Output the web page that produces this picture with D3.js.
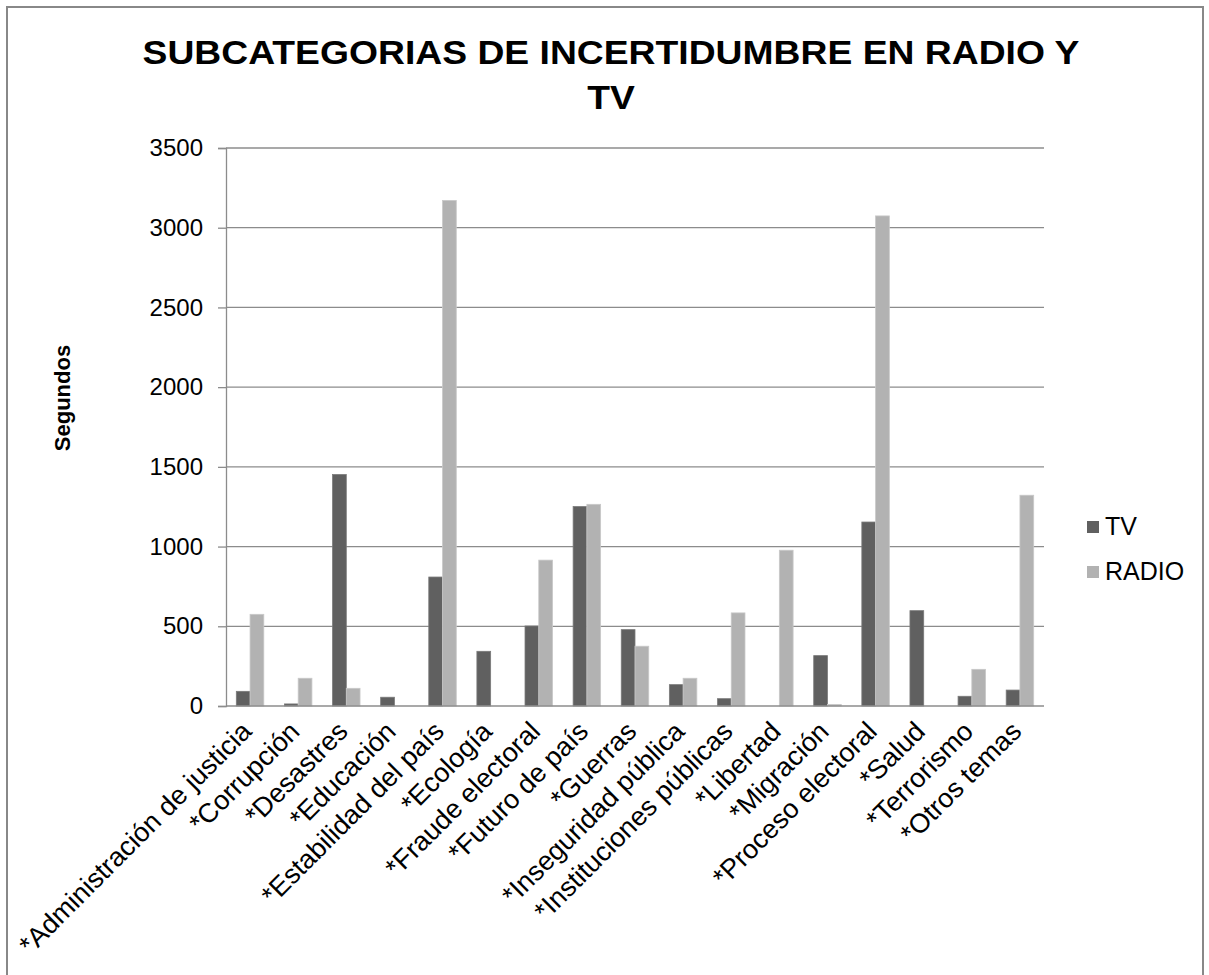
<!DOCTYPE html>
<html><head><meta charset="utf-8">
<script src="https://cdn.jsdelivr.net/npm/d3@7"></script>
<style>
html,body{margin:0;padding:0;background:#fff;}
text{font-family:"Liberation Sans",Arial,sans-serif;}
</style></head>
<body>
<svg id="c" width="1209" height="975"></svg>
<script>
const categories = ["*Administración de justicia","*Corrupción","*Desastres","*Educación","*Estabilidad del país","*Ecología","*Fraude electoral","*Futuro de país","*Guerras","*Inseguridad pública","*Instituciones públicas","*Libertad","*Migración","*Proceso electoral","*Salud","*Terrorismo","*Otros temas"];
const tvValues    = [92, 13, 1452, 55, 809, 343, 502, 1251, 479, 134, 46, 0, 316, 1154, 598, 61, 100];
const radioValues = [575, 174, 111, 0, 3171, 0, 915, 1265, 375, 174, 584, 977, 10, 3074, 0, 230, 1322];
const seriesNames = ["TV", "RADIO"];
const seriesColors = ["#606060", "#b2b2b2"];
const yTicks = [0, 500, 1000, 1500, 2000, 2500, 3000, 3500];
const titleLines = ["SUBCATEGORIAS DE INCERTIDUMBRE EN RADIO Y", "TV"];
const yTitle = "Segundos";

const svg = d3.select("#c");
svg.append("rect").attr("x",7).attr("y",7).attr("width",1196).attr("height",1000)
  .attr("fill","#fff").attr("stroke","#888").attr("stroke-width",2);

const L = 226, R = 1044, T = 148, B = 706;
const x = d3.scaleBand().domain(categories).range([L, R]).paddingInner(0).paddingOuter(0);
const bw = x.bandwidth() / 3.5;
const x1 = d3.scaleBand().domain(seriesNames).range([0, 2 * bw]);
const y = d3.scaleLinear().domain([0, 3500]).range([B, T]);

// gridlines
svg.append("g").selectAll("line").data(yTicks.filter(d => d > 0)).join("line")
  .attr("x1", L).attr("x2", R).attr("y1", d => y(d)).attr("y2", d => y(d))
  .attr("stroke", "#8c8c8c").attr("stroke-width", 1.3);

// y axis
const yAxis = d3.axisLeft(y).tickValues(yTicks).tickSize(8).tickPadding(15).tickFormat(d3.format("d"));
const gy = svg.append("g").attr("transform", `translate(${L},0)`).call(yAxis);
gy.select(".domain").attr("stroke", "#8c8c8c").attr("stroke-width", 1.3);
gy.selectAll(".tick line").attr("stroke", "#8c8c8c").attr("stroke-width", 1.3);
gy.selectAll(".tick text").attr("font-size", 24).attr("fill", "#000")
  .attr("font-family", "Liberation Sans, Arial, sans-serif");

// bars
const data = categories.map((c, i) => ({c, vals: [tvValues[i], radioValues[i]]}));
const groups = svg.append("g").selectAll("g").data(data).join("g")
  .attr("transform", d => `translate(${x(d.c) + (x.bandwidth() - 2 * bw) / 2},0)`);
groups.selectAll("rect").data(d => d.vals.map((v, j) => ({v, s: seriesNames[j], j})))
  .join("rect")
  .filter(d => d.v > 0)
  .attr("x", d => x1(d.s)).attr("width", x1.bandwidth())
  .attr("y", d => y(d.v)).attr("height", d => y(0) - y(d.v))
  .attr("fill", d => seriesColors[d.j])
  .attr("stroke", d => d.j === 0 ? "#7a7a7a" : "#c8c8c8").attr("stroke-width", 0.8);

// x axis line
svg.append("line").attr("x1", L).attr("x2", R).attr("y1", B).attr("y2", B)
  .attr("stroke", "#8c8c8c").attr("stroke-width", 1.5);

// x labels
svg.append("g").selectAll("text").data(categories).join("text")
  .attr("transform", d => `translate(${x(d) + x.bandwidth() / 2 + 3},733) rotate(-45)`)
  .attr("text-anchor", "end").attr("font-size", 27).attr("fill", "#000")
  .text(d => d);

// title
svg.append("g").attr("transform", "translate(611,0) scale(1.13,1)")
  .selectAll("text").data(titleLines).join("text")
  .attr("x", 0).attr("y", (d, i) => 64 + i * 45)
  .attr("text-anchor", "middle").attr("font-size", 33).attr("font-weight", "bold")
  .attr("fill", "#000").text(d => d);

// y title
svg.append("text").attr("transform", "translate(70,398) rotate(-90)")
  .attr("text-anchor", "middle").attr("font-size", 22).attr("font-weight", "bold")
  .attr("fill", "#000").text(yTitle);

// legend
const lg = svg.append("g").selectAll("g").data(seriesNames).join("g")
  .attr("transform", (d, i) => `translate(1087,${521 + i * 45})`);
lg.append("rect").attr("width", 12).attr("height", 12).attr("fill", (d, i) => seriesColors[i]);
lg.append("text").attr("x", 18).attr("y", 14).attr("font-size", 25).attr("fill", "#000").text(d => d);
</script>
</body></html>
